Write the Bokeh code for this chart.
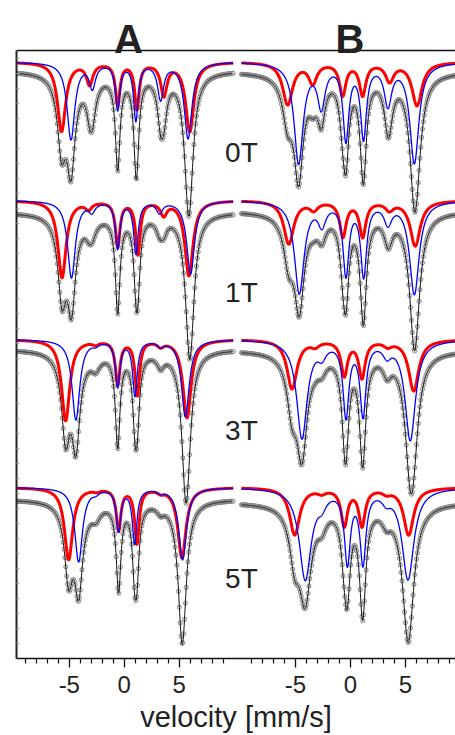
import numpy as np
from bokeh.plotting import figure
from bokeh.models import Range1d, LinearAxis, FixedTicker, CustomJSTickFormatter, Label, Span
from bokeh.embed import file_html
from bokeh.resources import INLINE

# ---------------------------------------------------------------------------
# Mössbauer spectra of samples A and B at 0, 1, 3 and 5 T.
# Each spectrum is fitted with two sextets (red and blue); for every line the
# position (mm/s), depth (% absorption) and the sextet line widths are listed.
# Sample A also carries a broad, unresolved contribution that enters only the
# total fit.
# ---------------------------------------------------------------------------
fields = ["0T", "1T", "3T", "5T"]
samples = ["A", "B"]
sample_shift = {"A": 0.0, "B": 20.55}      # horizontal offset of panel B on the shared axis
v_min, v_max = -9.9, 9.9                   # velocity span of each spectrum (mm/s)
n_channels = 256

base_level = [-1.15, -15.0, -28.9, -43.7]  # baseline of the fitted components (%)
data_drop = {"A": [0.9, 1.2, 1.0, 1.2],    # extra offset of the measured spectrum (%)
             "B": [1.0, 1.1, 1.1, 1.5]}

red_pos = {
    "A": [[-5.70, -3.15, -0.60, 1.15, 3.60, 5.95],
          [-5.66, -3.25, -0.60, 1.24, 3.58, 5.88],
          [-5.33, -2.60, -0.60, 1.18, 3.30, 5.70],
          [-5.06, -2.50, -0.52, 1.15, 3.30, 5.24]],
    "B": [[-5.70, -3.42, -0.70, 1.12, 3.57, 6.06],
          [-5.60, -3.33, -0.67, 1.12, 3.55, 5.90],
          [-5.30, -3.20, -0.55, 1.06, 3.40, 5.76],
          [-5.06, -2.60, -0.55, 1.06, 3.30, 5.30]],
}
red_depth = {
    "A": [[6.9, 2.1, 4.2, 4.6, 3.2, 6.9],
          [7.7, 0.7, 4.5, 5.3, 1.3, 7.5],
          [8.1, 0.3, 4.4, 5.5, 0.5, 7.8],
          [7.2, 0.2, 4.2, 5.5, 0.3, 7.0]],
    "B": [[4.2, 2.0, 3.2, 3.2, 1.8, 4.3],
          [4.3, 0.8, 3.5, 3.5, 0.8, 4.5],
          [4.9, 0.5, 3.5, 3.7, 0.5, 5.1],
          [4.7, 0.4, 3.7, 3.7, 0.4, 4.7]],
}
blue_pos = {
    "A": [[-4.85, -2.90, -0.60, 1.05, 3.30, 5.80],
          [-4.80, -2.94, -0.60, 1.06, 3.20, 6.03],
          [-4.40, -2.60, -0.60, 0.97, 3.30, 5.55],
          [-4.15, -2.60, -0.52, 0.94, 3.30, 5.30]],
    "B": [[-4.70, -2.64, -0.40, 1.20, 3.42, 5.82],
          [-4.64, -2.58, -0.40, 1.21, 3.42, 5.82],
          [-4.40, -2.58, -0.40, 1.15, 3.33, 5.45],
          [-4.10, -2.58, -0.27, 1.15, 3.27, 5.24]],
}
blue_depth = {
    "A": [[7.7, 2.4, 4.6, 5.7, 3.6, 7.6],
          [7.7, 0.9, 4.7, 5.2, 1.1, 7.3],
          [8.0, 0.3, 4.6, 5.5, 0.5, 7.7],
          [7.4, 0.3, 4.2, 5.5, 0.3, 7.2]],
    "B": [[10.0, 4.2, 7.5, 7.3, 4.0, 10.0],
          [9.2, 2.1, 7.2, 7.3, 2.0, 9.3],
          [9.8, 1.2, 7.4, 7.3, 1.2, 10.0],
          [9.1, 1.1, 7.2, 7.2, 0.9, 9.1]],
}
# broad contribution (same line positions as the blue sextet)
broad_depth = {
    "A": [[1.5, 1.2, 0.5, 0.3, 0.4, 0.2],
          [1.1, 0.9, 0.4, 0.2, 0.3, 0.2],
          [1.0, 0.8, 0.3, 0.2, 0.3, 0.2],
          [1.1, 0.8, 0.3, 0.2, 0.2, 0.2]],
    "B": [[0.0, 0.0, 0.0, 0.0, 0.0, 0.0],
          [0.0, 0.0, 0.0, 0.0, 0.0, 0.0],
          [0.0, 0.0, 0.0, 0.0, 0.0, 0.0],
          [0.0, 0.0, 0.0, 0.0, 0.0, 0.0]],
}
# line widths (FWHM, mm/s) of the outer and inner line pairs
red_width_outer = {"A": [0.9, 0.9, 0.9, 0.9], "B": [1.1, 1.1, 1.1, 1.1]}
red_width_inner = {"A": [0.5, 0.5, 0.5, 0.5], "B": [0.7, 0.7, 0.7, 0.7]}
blue_width_outer = {"A": [0.85, 0.85, 0.85, 0.85], "B": [1.0, 1.06, 1.15, 1.3]}
blue_width_inner = {"A": [0.5, 0.5, 0.5, 0.5], "B": [0.65, 0.65, 0.65, 0.65]}
broad_width_outer = 1.5
broad_width_inner = 1.2

major_ticks = [-5, 0, 5]
minor_ticks = [t for t in range(-9, 10) if t not in major_ticks]


def sextet(v, pos, depth, w_out, w_in):
    """Sum of six Lorentzian absorption lines."""
    w_mid = 0.5 * (w_out + w_in)
    widths = [w_out, w_mid, w_in, w_in, w_mid, w_out]
    out = np.zeros_like(v)
    for c, d, g in zip(pos, depth, widths):
        out += d / (1.0 + ((v - c) / (0.5 * g)) ** 2)
    return out


p = figure(width=455, height=735, output_backend="svg", toolbar_location=None,
           x_range=Range1d(-9.8, 30.11), y_range=Range1d(-60.8, 5.0),
           x_axis_type=None, y_axis_type=None,
           min_border_left=16, min_border_right=0, min_border_top=0, min_border_bottom=77)
p.outline_line_color = None
p.background_fill_color = "white"
p.border_fill_color = "white"

FONT = "Liberation Sans"
TXT = "#222222"

# bottom velocity axis shared by both panels
all_major = [t + sample_shift[s] for s in samples for t in major_ticks]
all_minor = [t + sample_shift[s] for s in samples for t in minor_ticks]
xaxis = LinearAxis(
    ticker=FixedTicker(ticks=all_major, minor_ticks=all_minor),
    formatter=CustomJSTickFormatter(code="""
        const v = tick > 10.3 ? tick - 20.55 : tick;
        return Math.round(v).toString();
    """),
    axis_label="velocity [mm/s]",
    axis_line_width=1.5, axis_line_color="#111111",
    major_tick_in=0, major_tick_out=9, major_tick_line_width=1.3, major_tick_line_color="#111111",
    minor_tick_in=0, minor_tick_out=5, minor_tick_line_width=1.2, minor_tick_line_color="#111111",
    major_label_standoff=8,
    major_label_text_font=FONT, major_label_text_font_size="24px", major_label_text_color=TXT,
    axis_label_standoff=5,
    axis_label_text_font=FONT, axis_label_text_font_size="29px",
    axis_label_text_font_style="normal", axis_label_text_color=TXT,
)
p.add_layout(xaxis, "below")

# left intensity axis without labels, ending at the top border
yaxis = LinearAxis(
    ticker=FixedTicker(ticks=list(np.arange(-59.3, 0, 1.5))),
    formatter=CustomJSTickFormatter(code="return '';"),
    bounds=(-60.8, 0.0),
    axis_line_width=2, axis_line_color="#222222",
    major_tick_in=3, major_tick_out=0, major_tick_line_color="#a0a0a0",
    minor_tick_line_color=None, major_label_standoff=0,
)
p.add_layout(yaxis, "left")

# top border line
p.add_layout(Span(location=0.0, dimension="width", line_color="#111111", line_width=1.5))

v_fine = np.linspace(v_min, v_max, 900)
v_chan = np.linspace(v_min, v_max, n_channels)

for i, f in enumerate(fields):
    for s in samples:
        args_r = (red_pos[s][i], red_depth[s][i], red_width_outer[s][i], red_width_inner[s][i])
        args_b = (blue_pos[s][i], blue_depth[s][i], blue_width_outer[s][i], blue_width_inner[s][i])
        args_w = (blue_pos[s][i], broad_depth[s][i], broad_width_outer, broad_width_inner)
        red_f = sextet(v_fine, *args_r)
        blue_f = sextet(v_fine, *args_b)
        base = base_level[i]
        data_base = base - data_drop[s][i]
        total_f = data_base - red_f - blue_f - sextet(v_fine, *args_w)
        total_c = (data_base - sextet(v_chan, *args_r) - sextet(v_chan, *args_b)
                   - sextet(v_chan, *args_w))
        xs_f = v_fine + sample_shift[s]
        xs_c = v_chan + sample_shift[s]

        p.scatter(xs_c, total_c, size=4.2, fill_color="#dcdcdc",
                  line_color="#6e6e6e", line_width=0.7)
        p.line(xs_f, total_f, line_color="#111111", line_width=1.0)
        p.line(xs_f, base - red_f, line_color="#ff0000", line_width=3)
        p.line(xs_f, base - blue_f, line_color="#0000ff", line_width=1.3)

# field labels
field_label_y = [-10.2, -24.2, -38.0, -52.8]
for f, y in zip(fields, field_label_y):
    p.add_layout(Label(x=10.65, y=y, text=f, text_align="center", text_baseline="alphabetic",
                       text_font=FONT, text_font_size="28px", text_color=TXT))

# sample labels
for s, x in zip(samples, [0.38, 20.52]):
    p.add_layout(Label(x=x, y=1.15, text=s, text_align="center", text_baseline="alphabetic",
                       text_font=FONT, text_font_size="40px", text_font_style="bold",
                       text_color=TXT))

open("out.html", "w").write(file_html(p, INLINE))
